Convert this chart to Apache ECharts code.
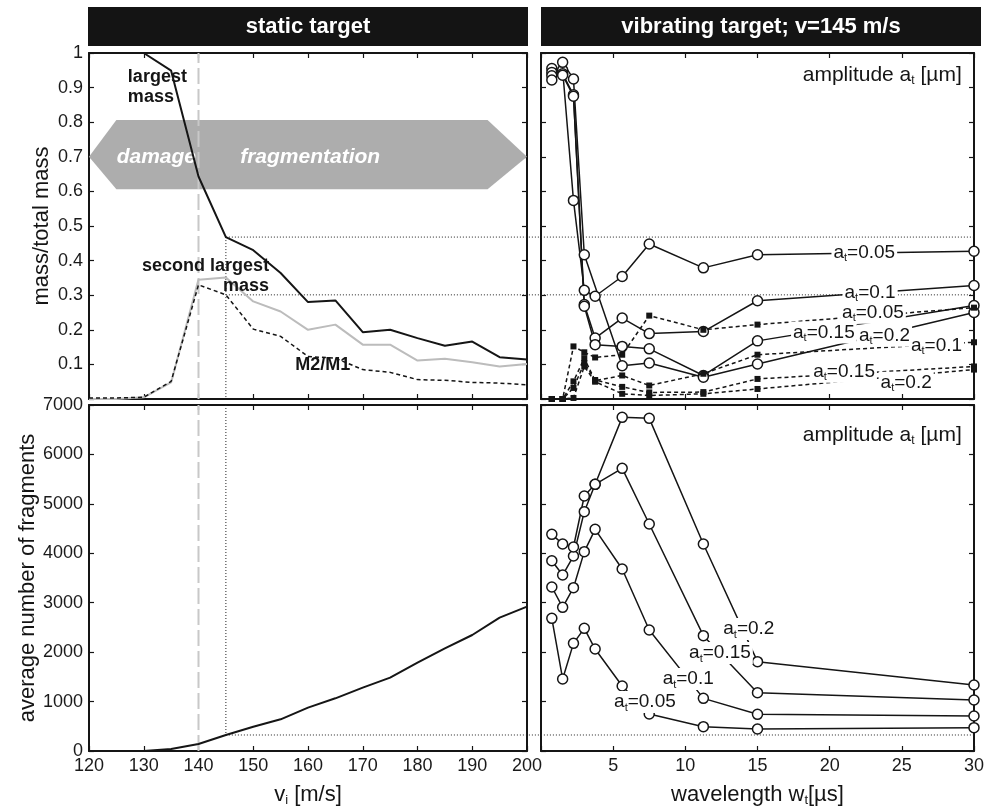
<!DOCTYPE html>
<html>
<head>
<meta charset="utf-8">
<script src="https://cdn.jsdelivr.net/npm/echarts@6/dist/echarts.min.js"></script>
<style>
  html, body { margin: 0; padding: 0; background: #fff; }
  #chart { width: 987px; height: 810px; }
</style>
</head>
<body>
<div id="chart"></div>
<script>
// ---------- static target: sweep over impact speed ----------
const impactSpeeds = [120, 125, 130, 135, 140, 145, 150, 155, 160, 165, 170, 175, 180, 185, 190, 195, 200];
const largestMass  = [1, 1, 1, 0.949, 0.643, 0.468, 0.43, 0.364, 0.28, 0.285, 0.193, 0.2, 0.176, 0.154, 0.166, 0.121, 0.114];
const secondMass   = [0, 0, 0.005, 0.048, 0.345, 0.351, 0.282, 0.253, 0.2, 0.215, 0.157, 0.157, 0.111, 0.116, 0.106, 0.094, 0.101];
const massRatio    = [0.003, 0.003, 0.005, 0.051, 0.33, 0.301, 0.202, 0.181, 0.123, 0.118, 0.085, 0.077, 0.056, 0.054, 0.048, 0.046, 0.041];
const fragmentCount = [0, 0, 0, 40, 142, 324, 492, 641, 877, 1066, 1281, 1484, 1787, 2077, 2347, 2698, 2920];

// speeds marking the damage/fragmentation threshold and the chosen speed
const thresholdSpeed = 140;
const chosenSpeed = 145;
const chosenIndex = impactSpeeds.indexOf(chosenSpeed);

// ---------- vibrating target (v = 145 m/s): sweep over wavelength ----------
const wavelengths = [0.75, 1.5, 2.25, 3, 3.75, 5.625, 7.5, 11.25, 15, 30];
const amplitudes = ['0.05', '0.1', '0.15', '0.2'];

// largest mass / total mass
const largestA005 = [0.955, 0.951, 0.574, 0.314, 0.297, 0.354, 0.448, 0.379, 0.417, 0.427];
const largestA010 = [0.944, 0.940, 0.879, 0.273, 0.176, 0.234, 0.189, 0.195, 0.284, 0.328];
const largestA015 = [0.934, 0.936, 0.875, 0.268, 0.157, 0.152, 0.145, 0.068, 0.168, 0.270];
const largestA020 = [0.922, 0.973, 0.925, 0.417, null, 0.096, 0.104, 0.063, 0.101, 0.250];

// M2/M1
const ratioA005 = [0, 0, 0.152, 0.135, 0.120, 0.128, 0.241, 0.200, 0.215, 0.264];
const ratioA010 = [0, 0, 0.051, 0.118, 0.053, 0.068, 0.039, 0.073, 0.128, 0.164];
const ratioA015 = [0, 0, 0.032, 0.104, 0.055, 0.035, 0.019, 0.020, 0.058, 0.094];
const ratioA020 = [0, 0, 0.003, 0.094, 0.050, 0.015, 0.010, 0.015, 0.029, 0.085];

// average number of fragments
const fragA005 = [2684, 1457, 2178, 2482, 2063, 1315, 749, 492, 445, 472];
const fragA010 = [3318, 2906, 3304, 4033, 4484, 3682, 2448, 1065, 742, 708];
const fragA015 = [3850, 3560, 3945, 4842, 5395, 5718, 4592, 2333, 1180, 1032];
const fragA020 = [4383, 4188, 4127, 5159, 5395, 6750, 6730, 4188, 1807, 1335];

// ---------- layout ----------
const INK = '#151515';
const FONT = '"Liberation Sans", Arial, sans-serif';
const LEFT  = { left: 89,  width: 438 };
const RIGHT = { left: 541, width: 433 };
const TOP   = { top: 53,  height: 346 };
const BOTTOM = { top: 405, height: 346 };
const SPEED_MIN = 120, SPEED_MAX = 200;
// speed axis stretched over both columns, used for the guide lines that cross into the right column
const SPAN_MAX = SPEED_MIN + (SPEED_MAX - SPEED_MIN) * (RIGHT.left + RIGHT.width - LEFT.left) / LEFT.width;

// axis index (same for x and y) of each panel
const AX_LT = 0, AX_RT = 2, AX_LB = 4, AX_RB = 6, AX_SPAN_T = 8, AX_SPAN_B = 9;

// annotation anchors (data units of the panel they sit in)
const bannerOutline = [[120, 0.7], [125, 0.806], [192.8, 0.806], [200, 0.7], [192.8, 0.606], [125, 0.606]];
const bannerWords = [{ at: [132.3, 0.7], text: 'damage' }, { at: [160.4, 0.7], text: 'fragmentation' }];
const staticTags = [
  { at: [127.1, 0.903], text: 'largest\nmass', align: 'left' },
  { at: [152.9, 0.356], text: 'second largest\nmass', align: 'right' },
  { at: [162.7, 0.099], text: 'M2/M1', align: 'center' }
];
const vibTopTags = [
  { at: [22.4, 0.423], amp: '0.05' },
  { at: [22.8, 0.307], amp: '0.1' },
  { at: [23.0, 0.249], amp: '0.05' },
  { at: [19.6, 0.192], amp: '0.15' },
  { at: [23.8, 0.183], amp: '0.2' },
  { at: [27.4, 0.154], amp: '0.1' },
  { at: [21.0, 0.079], amp: '0.15' },
  { at: [25.3, 0.047], amp: '0.2' }
];
const vibBottomTags = [
  { at: [14.4, 2468], amp: '0.2' },
  { at: [12.4, 1983], amp: '0.15' },
  { at: [10.2, 1457], amp: '0.1' },
  { at: [7.2, 991], amp: '0.05' }
];

function subRich(size) {
  return {
    n: { fontSize: size, fontFamily: FONT, color: INK, lineHeight: size + 3 },
    s: { fontSize: Math.round(size * 0.58), fontFamily: FONT, color: INK, verticalAlign: 'bottom', lineHeight: 4 }
  };
}

function pairs(xs, ys) { return xs.map((x, i) => [x, ys[i]]); }

function frameAxis(grid, min, max, interval, extra) {
  return Object.assign({
    type: 'value', gridIndex: grid, min, max, interval,
    axisLine: { show: true, onZero: false, lineStyle: { color: INK, width: 2 } },
    axisTick: { show: true, inside: true, length: 5, lineStyle: { color: INK, width: 1.2 } },
    axisLabel: { show: false },
    splitLine: { show: false }
  }, extra || {});
}

const tickLabel = {
  show: true, color: '#1a1a1a', fontSize: 18, fontFamily: FONT, margin: 6,
  showMinLabel: true, showMaxLabel: true,
  formatter: v => String(+(+v).toFixed(3))
};
const nameStyle = { fontSize: 22, fontFamily: FONT, color: INK };

const grids = [
  { left: LEFT.left,  width: LEFT.width,  top: TOP.top,    height: TOP.height },
  { left: RIGHT.left, width: RIGHT.width, top: TOP.top,    height: TOP.height },
  { left: LEFT.left,  width: LEFT.width,  top: BOTTOM.top, height: BOTTOM.height },
  { left: RIGHT.left, width: RIGHT.width, top: BOTTOM.top, height: BOTTOM.height },
  { left: LEFT.left,  width: RIGHT.left + RIGHT.width - LEFT.left, top: TOP.top,    height: TOP.height },
  { left: LEFT.left,  width: RIGHT.left + RIGHT.width - LEFT.left, top: BOTTOM.top, height: BOTTOM.height }
];

const xAxes = [
  frameAxis(0, SPEED_MIN, SPEED_MAX, 10, { position: 'bottom' }),
  frameAxis(0, SPEED_MIN, SPEED_MAX, 10, { position: 'top' }),
  frameAxis(1, 0, 30, 5, { position: 'bottom' }),
  frameAxis(1, 0, 30, 5, { position: 'top' }),
  frameAxis(2, SPEED_MIN, SPEED_MAX, 10, {
    position: 'bottom', axisLabel: tickLabel,
    name: '{n|v}{s|i}{n| [m/s]}', nameLocation: 'middle', nameGap: 31,
    nameTextStyle: { rich: subRich(22) }
  }),
  frameAxis(2, SPEED_MIN, SPEED_MAX, 10, { position: 'top' }),
  frameAxis(3, 0, 30, 5, {
    position: 'bottom',
    axisLabel: Object.assign({}, tickLabel, { formatter: v => (+v === 0 ? '' : String(v)) }),
    name: '{n|wavelength w}{s|t}{n|[µs]}', nameLocation: 'middle', nameGap: 31,
    nameTextStyle: { rich: subRich(22) }
  }),
  frameAxis(3, 0, 30, 5, { position: 'top' }),
  { type: 'value', gridIndex: 4, min: SPEED_MIN, max: SPAN_MAX, show: false },
  { type: 'value', gridIndex: 5, min: SPEED_MIN, max: SPAN_MAX, show: false }
];
const yAxes = [
  frameAxis(0, 0, 1, 0.1, {
    position: 'left',
    // the zero of this panel sits under the 7000 of the panel below, so it is left out
    axisLabel: Object.assign({}, tickLabel, { formatter: v => (+v === 0 ? '' : String(+(+v).toFixed(3))) }),
    name: 'mass/total mass', nameLocation: 'middle', nameGap: 36, nameTextStyle: nameStyle
  }),
  frameAxis(0, 0, 1, 0.1, { position: 'right' }),
  frameAxis(1, 0, 1, 0.1, { position: 'left' }),
  frameAxis(1, 0, 1, 0.1, { position: 'right' }),
  frameAxis(2, 0, 7000, 1000, {
    position: 'left', axisLabel: tickLabel,
    name: 'average number of fragments', nameLocation: 'middle', nameGap: 36, nameTextStyle: nameStyle
  }),
  frameAxis(2, 0, 7000, 1000, { position: 'right' }),
  frameAxis(3, 0, 7000, 1000, { position: 'left' }),
  frameAxis(3, 0, 7000, 1000, { position: 'right' }),
  { type: 'value', gridIndex: 4, min: 0, max: 1, show: false },
  { type: 'value', gridIndex: 5, min: 0, max: 7000, show: false }
];

function plain(axis, data, line, z) {
  return {
    type: 'line', xAxisIndex: axis, yAxisIndex: axis, data, symbol: 'none',
    lineStyle: line, silent: true, z: z || 3, clip: false
  };
}
function dotted(axis, data) {
  return plain(axis, data, { color: '#222', width: 1, type: [1, 2] }, 2);
}
function circles(axis, ys) {
  return {
    type: 'line', xAxisIndex: axis, yAxisIndex: axis, data: pairs(wavelengths, ys), connectNulls: true,
    symbol: 'circle', symbolSize: 10, showAllSymbol: true,
    itemStyle: { color: '#fff', borderColor: INK, borderWidth: 1.5 },
    lineStyle: { color: INK, width: 1.5 }, silent: true, z: 4
  };
}
function squares(axis, ys) {
  return {
    type: 'line', xAxisIndex: axis, yAxisIndex: axis, data: pairs(wavelengths, ys),
    symbol: 'rect', symbolSize: 6, showAllSymbol: true,
    itemStyle: { color: INK, borderWidth: 0 },
    lineStyle: { color: INK, width: 1.5, type: [4, 3] }, silent: true, z: 5
  };
}
function tags(axis, items, labelExtra) {
  return {
    type: 'scatter', xAxisIndex: axis, yAxisIndex: axis, symbolSize: 0, silent: true, z: 20,
    itemStyle: { opacity: 1 },
    data: items.map(t => ({
      value: t.at,
      label: { formatter: t.text || ('{n|a}{s|t}{n|=' + t.amp + '}'), align: t.align || 'center' }
    })),
    label: Object.assign({ show: true, position: 'inside', verticalAlign: 'middle', color: INK, opacity: 1 }, labelExtra)
  };
}

const ampLabel = { rich: subRich(19), backgroundColor: '#fff', padding: [0, 2, 0, 2] };
const ampTitleTop = [{ at: [29.15, 0.937], text: '{n|amplitude a}{s|t}{n| [µm]}', align: 'right' }];
const ampTitleBottom = [{ at: [29.15, 6393], text: '{n|amplitude a}{s|t}{n| [µm]}', align: 'right' }];
const dashedGuide = { color: '#c8c8c8', width: 2, type: [16, 5] };

const series = [
  // damage / fragmentation banner
  {
    type: 'custom', xAxisIndex: AX_LT, yAxisIndex: AX_LT, z: 1, silent: true, data: [0],
    renderItem(params, api) {
      const pts = bannerOutline.map(p => api.coord(p));
      const words = bannerWords.map(w => {
        const c = api.coord(w.at);
        return {
          type: 'text', x: c[0], y: c[1],
          style: { text: w.text, fill: '#fff', font: 'italic bold 21px ' + FONT, align: 'center', verticalAlign: 'middle' }
        };
      });
      return { type: 'group', children: [{ type: 'polygon', shape: { points: pts }, style: { fill: '#adadad' } }].concat(words) };
    }
  },
  // guide lines
  plain(AX_LT, [[thresholdSpeed, 0], [thresholdSpeed, 1]], dashedGuide, 2),
  plain(AX_LB, [[thresholdSpeed, 0], [thresholdSpeed, 7000]], dashedGuide, 2),
  dotted(AX_LT, [[chosenSpeed, largestMass[chosenIndex]], [chosenSpeed, 0]]),
  dotted(AX_LB, [[chosenSpeed, 7000], [chosenSpeed, fragmentCount[chosenIndex]]]),
  dotted(AX_SPAN_T, [[chosenSpeed, largestMass[chosenIndex]], [SPAN_MAX, largestMass[chosenIndex]]]),
  dotted(AX_SPAN_T, [[chosenSpeed, massRatio[chosenIndex]], [SPAN_MAX, massRatio[chosenIndex]]]),
  dotted(AX_SPAN_B, [[chosenSpeed, fragmentCount[chosenIndex]], [SPAN_MAX, fragmentCount[chosenIndex]]]),
  // static target curves
  plain(AX_LT, pairs(impactSpeeds, secondMass), { color: '#bcbcbc', width: 2 }, 3),
  plain(AX_LT, pairs(impactSpeeds, massRatio), { color: INK, width: 1.5, type: [4, 3] }, 4),
  plain(AX_LT, pairs(impactSpeeds, largestMass), { color: INK, width: 2 }, 5),
  plain(AX_LB, pairs(impactSpeeds, fragmentCount), { color: INK, width: 2 }, 5),
  tags(AX_LT, staticTags, { fontSize: 18, fontWeight: 'bold', fontFamily: FONT, lineHeight: 20 }),
  // vibrating target curves
  circles(AX_RT, largestA005), circles(AX_RT, largestA010), circles(AX_RT, largestA015), circles(AX_RT, largestA020),
  squares(AX_RT, ratioA005), squares(AX_RT, ratioA010), squares(AX_RT, ratioA015), squares(AX_RT, ratioA020),
  circles(AX_RB, fragA005), circles(AX_RB, fragA010), circles(AX_RB, fragA015), circles(AX_RB, fragA020),
  tags(AX_RT, vibTopTags, ampLabel),
  tags(AX_RB, vibBottomTags, ampLabel),
  tags(AX_RT, ampTitleTop, { rich: subRich(21) }),
  tags(AX_RB, ampTitleBottom, { rich: subRich(21) })
];

const option = {
  animation: false,
  backgroundColor: '#fff',
  grid: grids,
  xAxis: xAxes,
  yAxis: yAxes,
  series,
  graphic: [
    { type: 'rect', left: 88, top: 7, shape: { width: 440, height: 39 }, style: { fill: '#141414' } },
    { type: 'rect', left: 541, top: 7, shape: { width: 440, height: 39 }, style: { fill: '#141414' } },
    { type: 'text', x: 308, y: 27, style: { text: 'static target', fill: '#fff', font: 'bold 22px ' + FONT, align: 'center', verticalAlign: 'middle' } },
    { type: 'text', x: 761, y: 27, style: { text: 'vibrating target; v=145 m/s', fill: '#fff', font: 'bold 22px ' + FONT, align: 'center', verticalAlign: 'middle' } }
  ]
};

echarts.init(document.getElementById('chart'), null, { renderer: 'canvas' }).setOption(option);
</script>
</body>
</html>
